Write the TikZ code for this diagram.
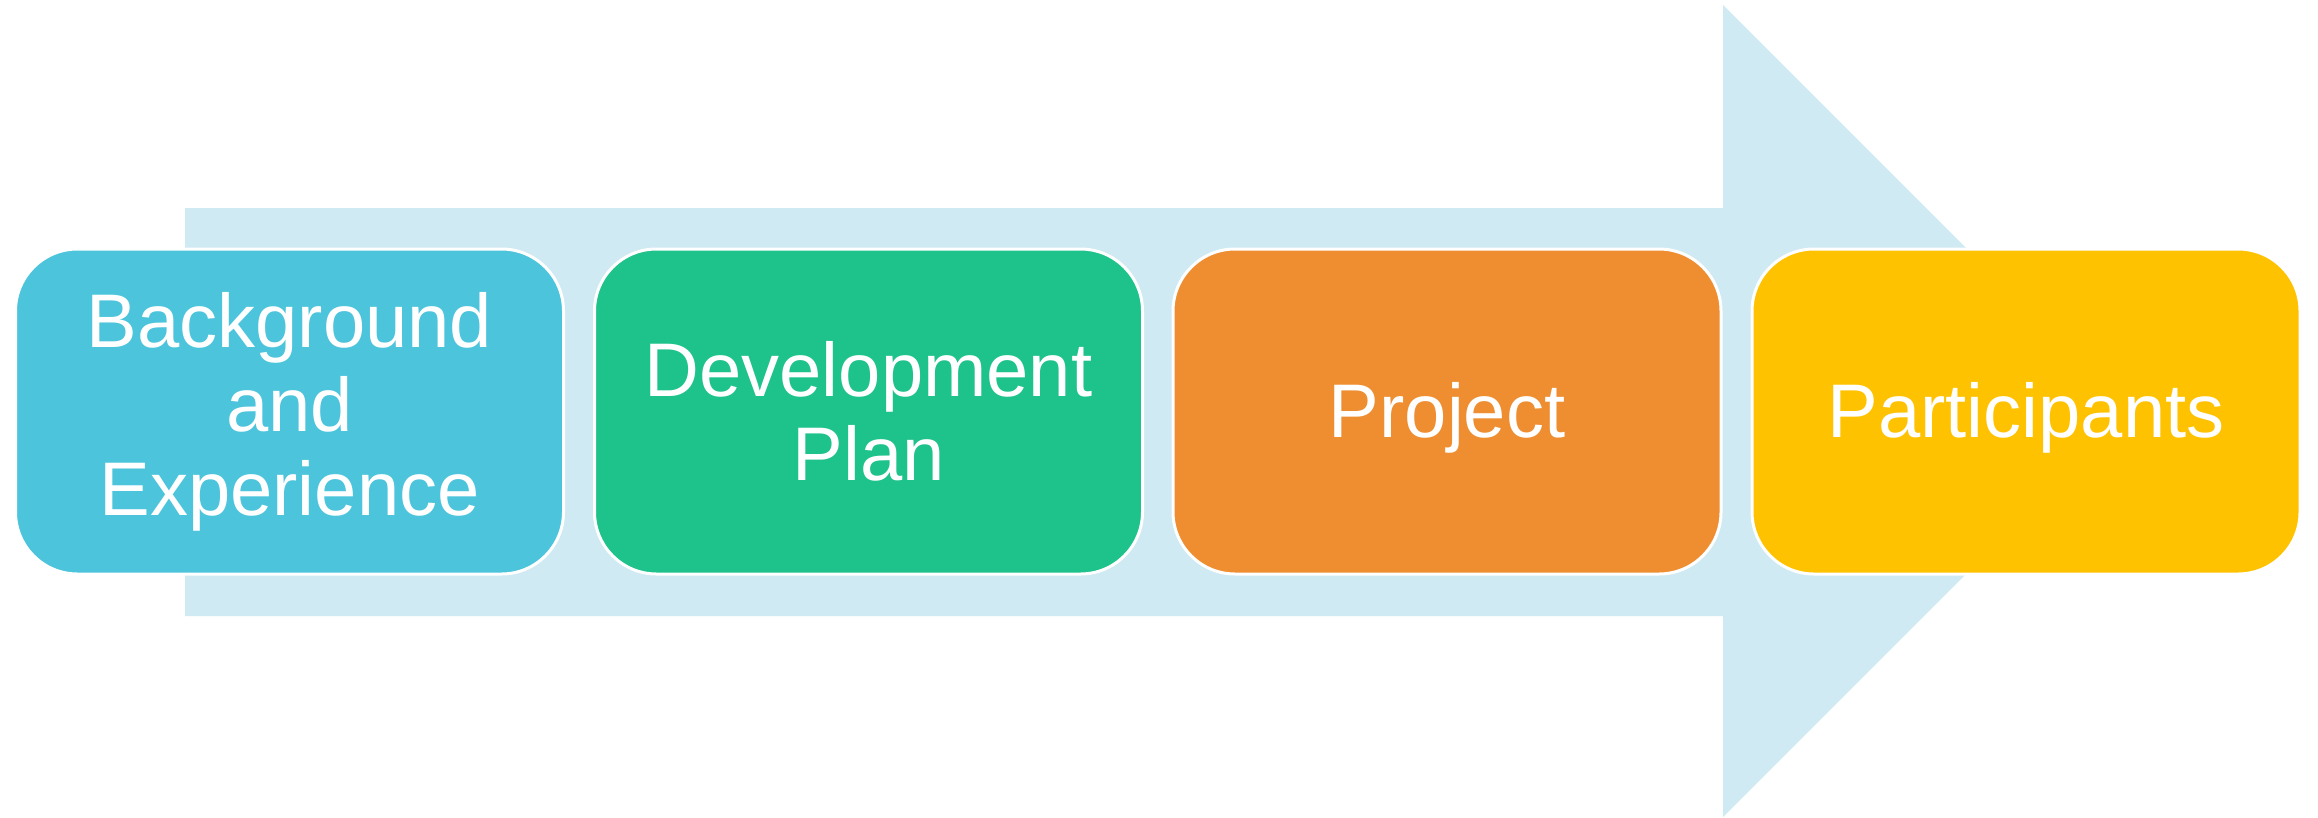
\documentclass[tikz,border=0pt]{standalone}
\usepackage{fontspec}
\setmainfont{Liberation Sans}
\definecolor{arrowbg}{HTML}{CFEAF2}
\definecolor{cblue}{HTML}{4BC4DC}
\definecolor{cgreen}{HTML}{1EC28B}
\definecolor{corange}{HTML}{EE8E31}
\definecolor{cyellow}{HTML}{FFC200}
\begin{document}
\begin{tikzpicture}[x=1pt,y=-1pt,
  stagebox/.style={draw=white, line width=3pt, rounded corners=62pt,
    minimum width=548pt, minimum height=325pt, inner sep=0pt,
    text=white, align=center,
    font=\fontsize{76}{84}\selectfont},
  oneline/.style={text height=56pt, text depth=5pt},
]
\useasboundingbox (0,0) rectangle (2318,817);
% big background arrow
\fill[arrowbg] (185,208) -- (1723,208) -- (1723,5) -- (2129,411)
  -- (1723,817) -- (1723,616) -- (185,616) -- cycle;
% stages
\node[stagebox, fill=cblue]    (bg)   at (289.5,411.5) {Background\\and\\Experience};
\node[stagebox, fill=cgreen]   (dev)  at (868.5,411.5) {Development\\Plan};
\node[stagebox, fill=corange, oneline]  (proj) at (1447,411.5) {Project};
\node[stagebox, fill=cyellow, oneline]  (part) at (2026,411.5) {Participants};
\end{tikzpicture}
\end{document}
